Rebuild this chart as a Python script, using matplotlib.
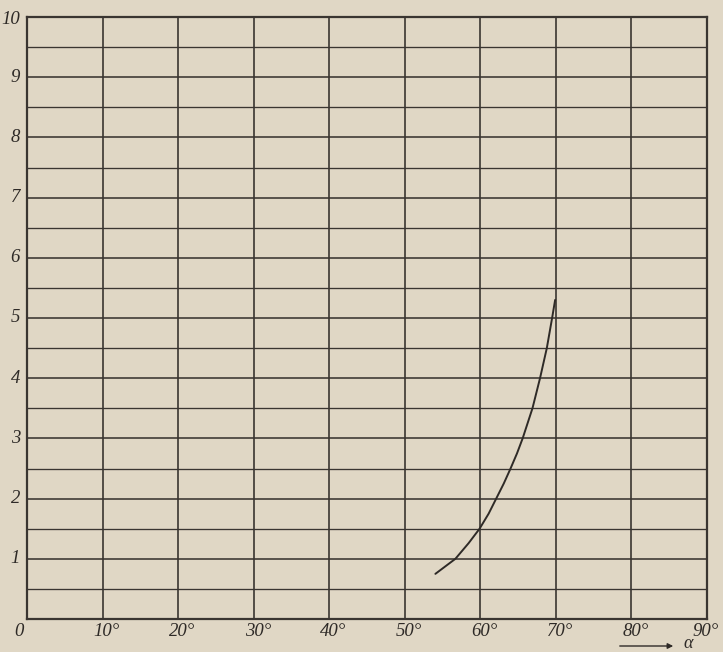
import matplotlib
matplotlib.use("Agg")
import matplotlib.pyplot as plt
from matplotlib.patches import FancyArrowPatch
from matplotlib.transforms import ScaledTranslation

# Data
x_ticks = [10, 20, 30, 40, 50, 60, 70, 80, 90]
x_labels = ["10°", "20°", "30°", "40°", "50°", "60°", "70°", "80°", "90°"]
y_ticks = [1, 2, 3, 4, 5, 6, 7, 8, 9, 10]
y_labels = ["1", "2", "3", "4", "5", "6", "7", "8", "9", "10"]
origin_label = "0"
axis_name = "α"

curve_alpha = [54.05, 56.7, 58.45, 59.9, 61.1, 62.1, 63.1, 64.0, 64.85, 65.6, 66.9, 67.9, 68.8, 69.5, 69.9]
curve_value = [0.75, 1.0, 1.26, 1.5, 1.75, 2.0, 2.25, 2.5, 2.75, 3.0, 3.5, 4.0, 4.5, 5.0, 5.3]

bg = "#e0d7c5"
ink = "#3a3531"
text_ink = "#2e2a27"

fig = plt.figure(figsize=(7.23, 6.52), dpi=100, facecolor=bg)
ax = fig.add_axes([27 / 723, 1 - 619 / 652, 680 / 723, 602 / 652])
ax.set_facecolor(bg)
ax.set_xlim(0, 90)
ax.set_ylim(0, 10)

# grid
for xv in range(10, 90, 10):
    ax.axvline(xv, color=ink, lw=1.2, zorder=1)
for k in range(1, 20):
    ax.axhline(k * 0.5, color=ink, lw=1.15 if k % 2 == 0 else 0.95, zorder=1)
for s in ax.spines.values():
    s.set_color(ink)
    s.set_linewidth(1.6)

ax.set_xticks([])
ax.set_yticks([])

font = dict(family="Liberation Serif", style="italic", fontsize=13.5, color=text_ink)

# y labels
for v, lab in zip(y_ticks, y_labels):
    dy = -2 if v == 10 else 0
    tr = ax.get_yaxis_transform() + ScaledTranslation(-7 / 100, dy / 100, fig.dpi_scale_trans)
    ax.text(0, v, lab, transform=tr, ha="right", va="center", **font)

# x labels
for v, lab in zip(x_ticks, x_labels):
    dx, dy = (4, -13) if v < 90 else (-1, -12)
    tr = ax.get_xaxis_transform() + ScaledTranslation(dx / 100, dy / 100, fig.dpi_scale_trans)
    ax.text(v, 0, lab, transform=tr, ha="center", va="center", **font)

tr0 = ax.get_xaxis_transform() + ScaledTranslation(-8 / 100, -13 / 100, fig.dpi_scale_trans)
ax.text(0, 0, origin_label, transform=tr0, ha="center", va="center", **font)

# arrow with alpha
fig.patches.append(FancyArrowPatch(
    (617 / 723, 1 - 646 / 652), (676 / 723, 1 - 646 / 652),
    transform=fig.transFigure, arrowstyle="-|>", mutation_scale=8,
    color=text_ink, lw=1.0))
fig.text(688 / 723, 1 - 644 / 652, axis_name, ha="center", va="center",
         family="Liberation Serif", style="italic", fontsize=13, color=text_ink)

# curve
ax.plot(curve_alpha, curve_value, color=text_ink, lw=1.4, zorder=3,
        solid_capstyle="round", solid_joinstyle="round")

fig.savefig("out.png", dpi=100, facecolor=bg)
